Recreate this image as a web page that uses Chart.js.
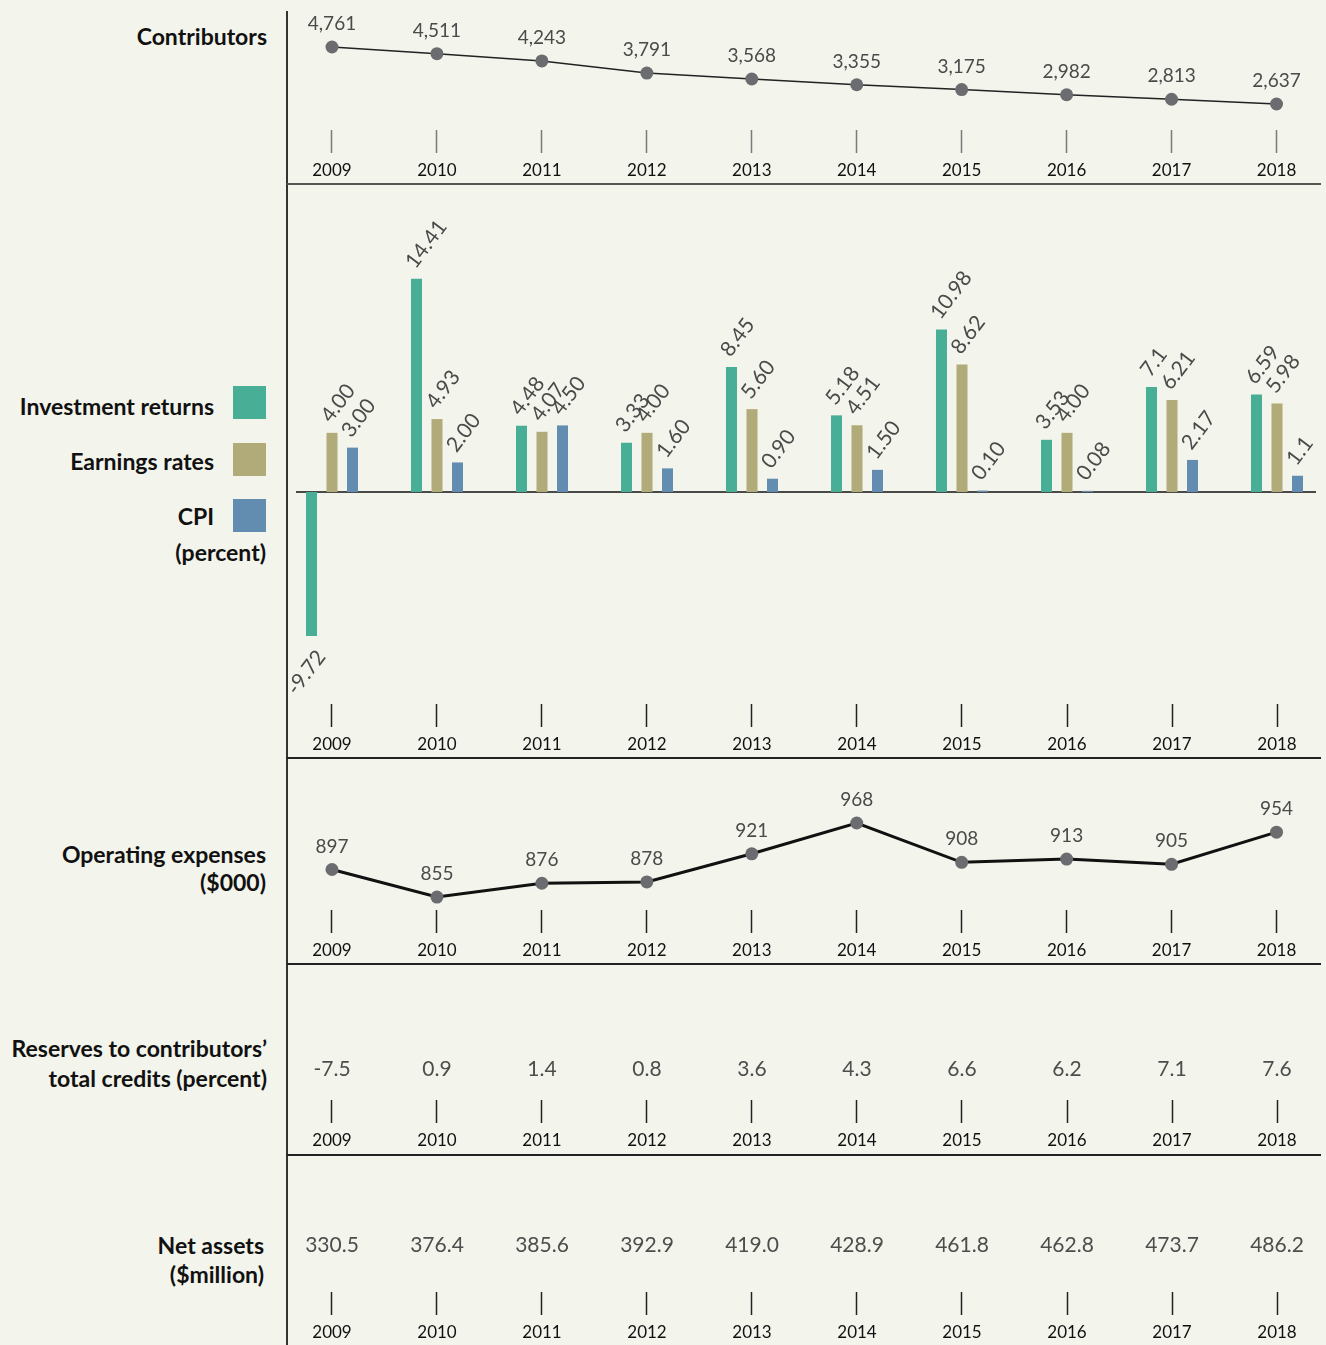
<!DOCTYPE html>
<html>
<head>
<meta charset="utf-8">
<script src="https://cdn.jsdelivr.net/npm/chart.js@4.4.1/dist/chart.umd.min.js"></script>
<style>
html,body{margin:0;padding:0;width:1326px;height:1345px;overflow:hidden;background:#f3f4eb;font-family:Lato,'Open Sans',sans-serif;}
canvas{position:absolute;left:0;}
.t{position:absolute;text-align:right;font-weight:700;font-size:23px;color:#111;white-space:nowrap;}
.sw{position:absolute;left:233px;width:33px;height:33px;}
.hl{position:absolute;left:287px;width:1034px;height:2px;background:#222;}
</style>
</head>
<body>
<div class="t" style="right:1059px;top:22px;line-height:28px;">Contributors</div>
<div class="t" style="right:1112px;top:392px;line-height:28px;">Investment returns</div>
<div class="t" style="right:1112px;top:447px;line-height:28px;">Earnings rates</div>
<div class="t" style="right:1112px;top:502px;line-height:28px;">CPI</div>
<div class="t" style="right:1060px;top:538px;line-height:28px;">(percent)</div>
<div class="sw" style="top:386px;background:#48ae96;"></div>
<div class="sw" style="top:443px;background:#b1aa79;"></div>
<div class="sw" style="top:499px;background:#628db0;"></div>
<div class="t" style="right:1060px;top:840px;line-height:28px;">Operating expenses<br>($000)</div>
<div class="t" style="right:1059px;top:1033px;line-height:30px;">Reserves to contributors’<br>total credits (percent)</div>
<div class="t" style="right:1062px;top:1231px;line-height:29px;">Net assets<br>($million)</div>

<div style="position:absolute;left:286px;top:11px;width:2px;height:1340px;background:#333;"></div>
<div class="hl" style="top:183px;background:#555;"></div>
<div class="hl" style="top:757px;"></div>
<div class="hl" style="top:963px;"></div>
<div class="hl" style="top:1154px;"></div>

<canvas id="c1" width="1326" height="194" style="top:0px"></canvas>
<canvas id="c2" width="1326" height="584" style="top:184px"></canvas>
<canvas id="c3" width="1326" height="216" style="top:758px"></canvas>
<canvas id="c4" width="1326" height="200" style="top:964px"></canvas>
<canvas id="c5" width="1326" height="201" style="top:1155px"></canvas>

<script>
// ---- data ----
const years = [2009, 2010, 2011, 2012, 2013, 2014, 2015, 2016, 2017, 2018];
const yearLabels = ['2009', '2010', '2011', '2012', '2013', '2014', '2015', '2016', '2017', '2018'];
const contributors = [4761, 4511, 4243, 3791, 3568, 3355, 3175, 2982, 2813, 2637];
const investmentReturns = ['-9.72', '14.41', '4.48', '3.33', '8.45', '5.18', '10.98', '3.53', '7.1', '6.59'];
const earningsRates = ['4.00', '4.93', '4.07', '4.00', '5.60', '4.51', '8.62', '4.00', '6.21', '5.98'];
const cpi = ['3.00', '2.00', '4.50', '1.60', '0.90', '1.50', '0.10', '0.08', '2.17', '1.1'];
const operatingExpenses = [897, 855, 876, 878, 921, 968, 908, 913, 905, 954];
const reservesToCredits = ['-7.5', '0.9', '1.4', '0.8', '3.6', '4.3', '6.6', '6.2', '7.1', '7.6'];
const netAssets = ['330.5', '376.4', '385.6', '392.9', '419.0', '428.9', '461.8', '462.8', '473.7', '486.2'];

// ---- layout helpers ----
const AREA_LEFT = 287, AREA_RIGHT = 1320, FIRST_X = 332, LAST_X = 1277, CANVAS_W = 1326;
const pxPerYear = (LAST_X - FIRST_X) / (years.length - 1);
const xMin = years[0] - (FIRST_X - AREA_LEFT) / pxPerYear;
const xMax = years[years.length - 1] + (AREA_RIGHT - LAST_X) / pxPerYear;
const FONT = 'Lato, "Open Sans", sans-serif';

function xScale(tickColor) {
  return {
    type: 'linear', min: xMin, max: xMax, offset: false,
    afterBuildTicks: s => { s.ticks = years.map(v => ({ value: v })); },
    ticks: {
      autoSkip: false, maxRotation: 0, minRotation: 0, padding: 9, color: '#111',
      font: { family: FONT, size: 17, lineHeight: 18 / 17 },
      callback: v => { const i = years.indexOf(v); return i >= 0 ? yearLabels[i] : ''; }
    },
    grid: { offset: false, drawOnChartArea: false, drawTicks: true, tickLength: 23, tickColor: tickColor, tickWidth: 1.5, color: 'rgba(0,0,0,0)' },
    border: { display: false }
  };
}
function baseOptions(padTop, padBottom, yMin, yMax, tickColor) {
  return {
    responsive: false, animation: false, events: [],
    layout: { padding: { left: AREA_LEFT, right: CANVAS_W - AREA_RIGHT, top: padTop, bottom: padBottom } },
    plugins: { legend: { display: false }, tooltip: { enabled: false } },
    scales: { x: xScale(tickColor), y: { display: false, min: yMin, max: yMax } }
  };
}
const pts = arr => years.map((y, i) => ({ x: y, y: typeof arr[i] === 'string' ? parseFloat(arr[i]) : arr[i] }));

// point value labels above line points
const pointLabels = {
  id: 'pointLabels',
  afterDatasetsDraw(chart, args, opts) {
    const ctx = chart.ctx;
    ctx.save();
    ctx.font = '19px ' + FONT; ctx.fillStyle = '#4a4a4a';
    ctx.textAlign = 'center'; ctx.textBaseline = 'middle';
    const ds = chart.data.datasets[0];
    chart.getDatasetMeta(0).data.forEach((p, i) => {
      ctx.fillText(opts.format(ds.data[i].y), p.x, p.y - 23);
    });
    ctx.restore();
  }
};
// row of text values
const rowLabels = {
  id: 'rowLabels',
  afterDatasetsDraw(chart, args, opts) {
    const ctx = chart.ctx, xs = chart.scales.x;
    ctx.save();
    ctx.font = '21px ' + FONT; ctx.fillStyle = '#4d4d4d';
    ctx.textAlign = 'center'; ctx.textBaseline = 'middle';
    const ds = chart.data.datasets[0];
    ds.valueLabels.forEach((txt, i) => {
      ctx.fillText(txt, xs.getPixelForValue(years[i]), chart.chartArea.bottom - opts.fromBottom);
    });
    ctx.restore();
  }
};
// zero line & rotated bar labels
const barDecor = {
  id: 'barDecor',
  beforeDatasetsDraw(chart) {
    const ctx = chart.ctx, y0 = chart.scales.y.getPixelForValue(0), a = chart.chartArea;
    ctx.save(); ctx.strokeStyle = '#111'; ctx.lineWidth = 1.6;
    ctx.beginPath(); ctx.moveTo(a.left + 9, y0); ctx.lineTo(a.right - 4, y0); ctx.stroke(); ctx.restore();
  },
  afterDatasetsDraw(chart) {
    const ctx = chart.ctx;
    ctx.save();
    ctx.font = '21px ' + FONT; ctx.fillStyle = '#4a4a4a'; ctx.textBaseline = 'alphabetic';
    chart.data.datasets.forEach((ds, di) => {
      chart.getDatasetMeta(di).data.forEach((bar, i) => {
        const txt = ds.valueLabels[i], v = parseFloat(txt);
        ctx.save();
        if (v >= 0) { ctx.translate(bar.x - 1, bar.y - 9); ctx.textAlign = 'left'; }
        else { ctx.translate(bar.x + 15, bar.y + 21); ctx.textAlign = 'right'; }
        ctx.rotate(-53 * Math.PI / 180);
        ctx.fillText(txt, 0, 0);
        ctx.restore();
      });
    });
    ctx.restore();
  }
};

function build() {
  // Panel 1: contributors
  const o1 = baseOptions(10, 5, 1668, 6140, '#7a7a7a');
  o1.plugins.pointLabels = { format: v => v.toLocaleString('en-US') };
  new Chart(document.getElementById('c1'), {
    type: 'line',
    data: { datasets: [{ data: pts(contributors), borderColor: '#222', borderWidth: 1.5,
      pointRadius: 6.5, pointBackgroundColor: '#6b6c70', pointBorderWidth: 0, tension: 0 }] },
    options: o1, plugins: [pointLabels]
  });

  // Panel 2: bars
  const o2 = baseOptions(16, 5, -14.32, 19.73, '#222');
  new Chart(document.getElementById('c2'), {
    type: 'bar',
    data: { datasets: [
      { label: 'Investment returns', data: pts(investmentReturns), valueLabels: investmentReturns, backgroundColor: '#48ae96' },
      { label: 'Earnings rates', data: pts(earningsRates), valueLabels: earningsRates, backgroundColor: '#b1aa79' },
      { label: 'CPI', data: pts(cpi), valueLabels: cpi, backgroundColor: '#628db0' }
    ].map(d => Object.assign(d, { categoryPercentage: 0.586, barPercentage: 0.537, borderWidth: 0 })) },
    options: o2, plugins: [barDecor]
  });

  // Panel 3: operating expenses
  const o3 = baseOptions(17, 5, 835.2, 1041.3, '#222');
  o3.plugins.pointLabels = { format: v => String(v) };
  new Chart(document.getElementById('c3'), {
    type: 'line',
    data: { datasets: [{ data: pts(operatingExpenses), borderColor: '#111', borderWidth: 3,
      pointRadius: 6.5, pointBackgroundColor: '#6b6c70', pointBorderWidth: 0, tension: 0 }] },
    options: o3, plugins: [pointLabels]
  });

  // Panel 4: reserves to contributors' total credits
  const o4 = baseOptions(16, 5, -1, 1, '#222');
  o4.plugins.rowLabels = { fromBottom: 31 };
  new Chart(document.getElementById('c4'), {
    type: 'line',
    data: { datasets: [{ data: years.map(y => ({ x: y, y: 0 })), valueLabels: reservesToCredits, showLine: false, pointRadius: 0 }] },
    options: o4, plugins: [rowLabels]
  });

  // Panel 5: net assets
  const o5 = baseOptions(15, 5, -1, 1, '#222');
  o5.plugins.rowLabels = { fromBottom: 47 };
  new Chart(document.getElementById('c5'), {
    type: 'line',
    data: { datasets: [{ data: years.map(y => ({ x: y, y: 0 })), valueLabels: netAssets, showLine: false, pointRadius: 0 }] },
    options: o5, plugins: [rowLabels]
  });
}

const fontLoads = ['17px Lato', '19px Lato', '21px Lato', 'bold 23px Lato'].map(f => document.fonts.load(f));
Promise.all(fontLoads).then(build, build);
</script>
</body>
</html>
